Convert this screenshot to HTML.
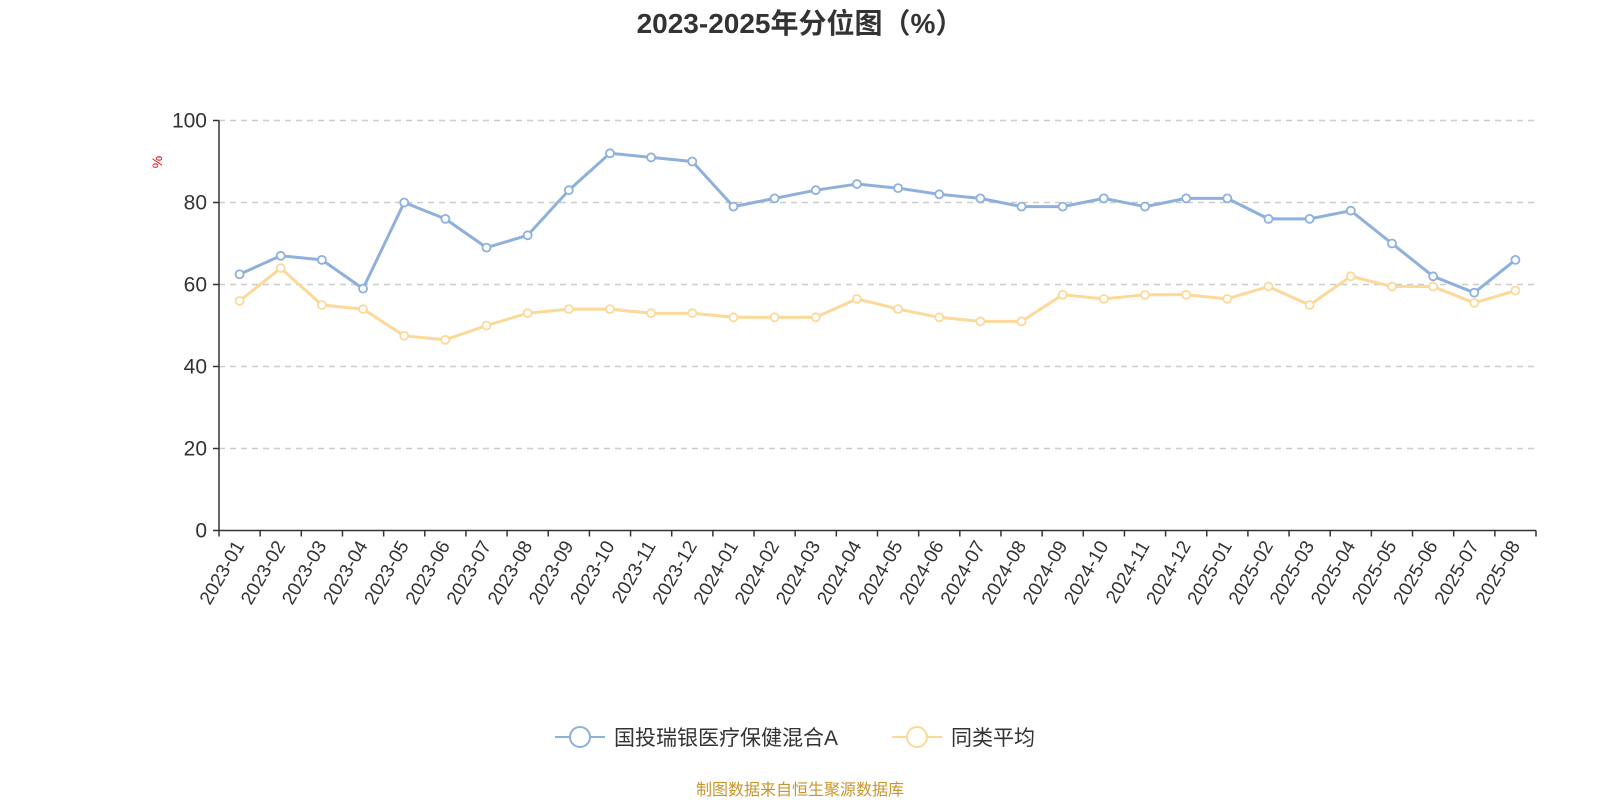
<!DOCTYPE html>
<html><head><meta charset="utf-8"><style>
html,body{margin:0;padding:0;background:#fff}
svg{display:block;font-family:"Liberation Sans","Noto Sans CJK SC",sans-serif}
</style></head><body>
<svg id="c" width="1600" height="800">
<text x="800" y="33" text-anchor="middle" font-size="28" font-weight="bold" fill="#333">2023-2025年分位图（%）</text>
<text x="0" y="0" transform="translate(162,162) rotate(-90)" text-anchor="middle" font-size="14" fill="red">%</text>
<g id="grid"></g><g id="axes"></g><g id="series"></g>
<g>
<g>
<line x1="555" y1="737" x2="605" y2="737" stroke="#8eb0dd" stroke-width="2"/>
<circle cx="580" cy="737" r="10" fill="#fff" stroke="#8eb0dd" stroke-width="2"/>
<text x="614" y="745" font-size="21" fill="#333">国投瑞银医疗保健混合A</text></g>
<g>
<line x1="892" y1="737" x2="942" y2="737" stroke="#fdd999" stroke-width="2"/>
<circle cx="917" cy="737" r="10" fill="#fff" stroke="#fdd999" stroke-width="2"/>
<text x="951" y="745" font-size="21" fill="#333">同类平均</text></g>
</g>
<text x="800" y="795" text-anchor="middle" font-size="16" fill="#c8952c">制图数据来自恒生聚源数据库</text>
</svg>
<script>
const categories=["2023-01","2023-02","2023-03","2023-04","2023-05","2023-06","2023-07","2023-08","2023-09","2023-10","2023-11","2023-12","2024-01","2024-02","2024-03","2024-04","2024-05","2024-06","2024-07","2024-08","2024-09","2024-10","2024-11","2024-12","2025-01","2025-02","2025-03","2025-04","2025-05","2025-06","2025-07","2025-08"];
const fundValues=[62.5,67,66,59,80,76,69,72,83,92,91,90,79,81,83,84.5,83.5,82,81,79,79,81,79,81,81,76,76,78,70,62,58,66];
const avgValues=[56,64,55,54,47.5,46.5,50,53,54,54,53,53,52,52,52,56.5,54,52,51,51,57.5,56.5,57.5,57.5,56.5,59.5,55,62,59.5,59.5,55.5,58.5];
const yTicks=[0,20,40,60,80,100];
const L=219,R=1536,T=120.5,B=530.5,NS="http://www.w3.org/2000/svg";
const bw=(R-L)/categories.length;
const xs=i=>L+bw*(i+0.5), ys=v=>B-(v/100)*(B-T);
function mk(tag,attrs,parent){const e=document.createElementNS(NS,tag);for(const k in attrs)e.setAttribute(k,attrs[k]);parent.appendChild(e);return e;}
const grid=document.getElementById('grid'),axes=document.getElementById('axes'),ser=document.getElementById('series');
yTicks.forEach(v=>{
  const y=ys(v);
  if(v>0){const g=mk('line',{x1:L,x2:R,y1:y,y2:y,stroke:'#ccc','stroke-width':1.5,'stroke-dasharray':'6,5'},grid);
  
  }
  mk('line',{x1:L-6,x2:L,y1:y,y2:y,stroke:'#333','stroke-width':1.5},axes);
  const t=mk('text',{x:L-12,y:y+7,'text-anchor':'end','font-size':21,fill:'#333'},axes);
  t.textContent=v;
  
  
});
const ya=mk('line',{x1:L,x2:L,y1:T,y2:B,stroke:'#333','stroke-width':1.5},axes);


const xa=mk('line',{x1:L,x2:R,y1:B,y2:B,stroke:'#333','stroke-width':1.5},axes);


for(let i=0;i<=categories.length;i++){mk('line',{x1:L+bw*i,x2:L+bw*i,y1:B,y2:B+6,stroke:'#333','stroke-width':1.5},axes);}
categories.forEach((c,i)=>{
  const x=xs(i),y=B+12;
  const t=mk('text',{x:x,y:y,'text-anchor':'end','font-size':19,fill:'#333',transform:`rotate(-60 ${x} ${y}) translate(0,6)`},axes);
  t.textContent=c;
  
  
});
function series(vals,color,name){
  const g=mk('g',{},ser);
  
  
  mk('polyline',{points:vals.map((v,i)=>xs(i)+','+ys(v)).join(' '),fill:'none',stroke:color,'stroke-width':3,'stroke-linejoin':'round'},g);
  vals.forEach((v,i)=>{const p=mk('circle',{cx:xs(i),cy:ys(v),r:4,fill:'#fff',stroke:color,'stroke-width':1.8},g);
  
  });
}
series(avgValues,'#fdd999','series-average');
series(fundValues,'#8eb0dd','series-fund');
</script>
</body></html>
